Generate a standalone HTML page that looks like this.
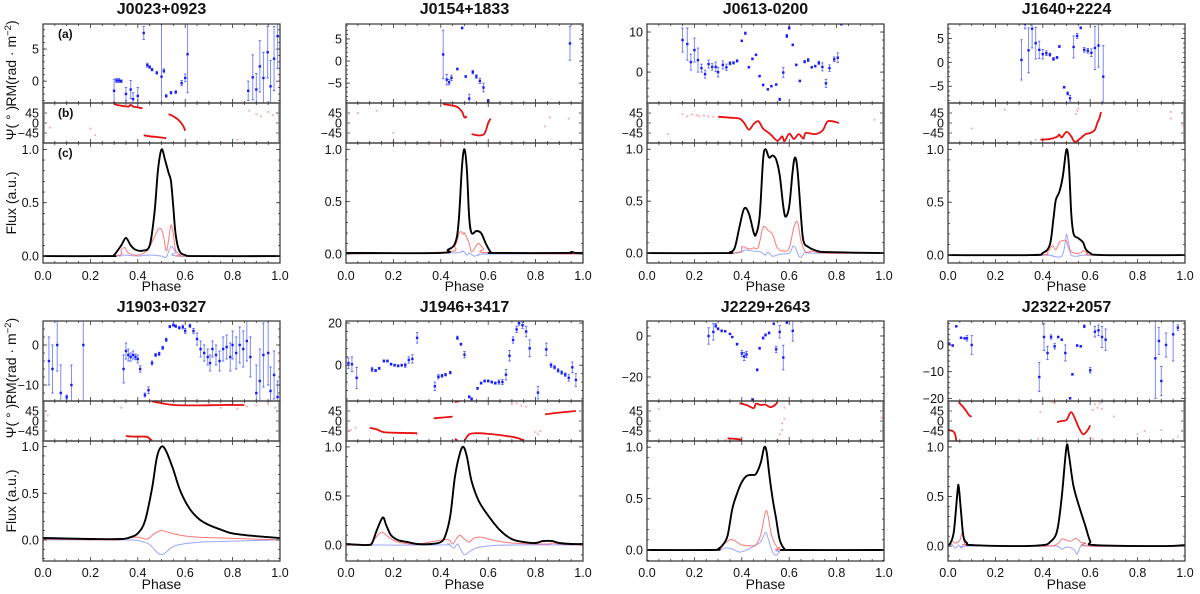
<!DOCTYPE html>
<html><head><meta charset="utf-8"><style>
html,body{margin:0;padding:0;background:#fff;}
svg{display:block;font-family:"Liberation Sans","DejaVu Sans",sans-serif;}
</style></head><body>
<svg id="fig" width="1200" height="594" viewBox="0 0 1200 594" xmlns="http://www.w3.org/2000/svg"></svg>
<script>
// ---------- DATA ----------
// RM: [phase, rm, err]; PA segments: [[phase, deg],...]; flux: [phase, value]
const j0023_rm=[[0.30,-1.5,1.8],[0.31,0.1,0.3],[0.32,0.1,0.3],[0.33,0,0.2],[0.35,-2,1],[0.37,-1.3,1.4],[0.38,-2.8,1],[0.40,-2.3,1.3],[0.425,7.5,1],[0.44,2.5,0.3],[0.45,2.2,0.2],[0.46,1.8,0.2],[0.48,1.3,0.2],[0.50,0.7,9],[0.51,1.6,0.3],[0.52,-2.3,0.2],[0.54,-1.8,0.2],[0.56,-1.7,0.2],[0.585,-0.3,0.4],[0.60,0.5,0.6],[0.61,4.2,6],[0.866,-1.5,1.5],[0.885,0.6,3.5],[0.90,-1.3,2.5],[0.915,2.3,4],[0.93,0.5,4],[0.948,4.5,4],[0.96,-0.8,4],[0.975,3.5,5],[0.99,7,5]];
const j0023_pa=[[[0.30,85],[0.33,78],[0.36,74],[0.37,82],[0.38,74],[0.40,70],[0.42,66]],[[0.425,-55],[0.45,-60],[0.48,-63],[0.52,-68]],[[0.53,40],[0.55,30],[0.57,15],[0.59,-10],[0.60,-35]]];
const j0023_paf=[[0.03,-20],[0.2,-25],[0.22,-55],[0.82,-75],[0.87,55],[0.9,40],[0.92,30],[0.95,50],[0.97,35]];
const j0023_I=[[0,0],[0.28,0],[0.30,0.01],[0.33,0.1],[0.35,0.17],[0.37,0.1],[0.39,0.06],[0.42,0.05],[0.45,0.1],[0.47,0.4],[0.485,0.8],[0.50,1.0],[0.515,0.9],[0.53,0.78],[0.54,0.7],[0.55,0.45],[0.56,0.2],[0.575,0.05],[0.60,0.01],[0.65,0],[1,0]];
const j0023_L=[[0,0],[0.30,0],[0.33,0.06],[0.345,0.08],[0.36,0.03],[0.40,0.01],[0.44,0.05],[0.47,0.18],[0.49,0.26],[0.505,0.22],[0.52,0.05],[0.53,0.15],[0.54,0.29],[0.55,0.2],[0.56,0.05],[0.58,0.01],[0.60,0],[1,0]];
const j0023_V=[[0,0],[0.30,0],[0.34,0.01],[0.40,0],[0.45,0.01],[0.50,0],[0.52,-0.01],[0.54,0.09],[0.56,0.04],[0.58,0],[1,0]];

const j0154_rm=[[0.41,1.5,5.5],[0.425,-4.2,1.2],[0.435,-4.8,0.6],[0.445,-3.8,0.6],[0.47,-1.8,0.2],[0.49,7.5,0.2],[0.505,-3.5,0.2],[0.52,-8.5,1],[0.535,-2.5,0.4],[0.55,-3.5,0.4],[0.565,-4.5,0.6],[0.58,-6,1],[0.60,-9,0.3],[0.945,4,3.8]];
const j0154_pa=[[[0.41,85],[0.44,80],[0.47,72],[0.49,50],[0.50,25],[0.51,30]],[[0.53,-50],[0.56,-56],[0.58,-52],[0.59,-35],[0.60,0],[0.61,20]]];
const j0154_paf=[[0.05,45],[0.13,55],[0.2,75],[0.2,-45],[0.2,-85],[0.41,-85],[0.84,-15],[0.86,25],[0.94,20]];
const j0154_I=[[0,0.01],[0.40,0.01],[0.43,0.04],[0.46,0.1],[0.475,0.3],[0.49,0.85],[0.50,1.0],[0.51,0.8],[0.52,0.35],[0.53,0.2],[0.55,0.22],[0.57,0.2],[0.59,0.1],[0.61,0.02],[0.63,0.01],[0.93,0.01],[0.95,0.02],[0.97,0.01],[1,0.01]];
const j0154_L=[[0,0],[0.42,0.02],[0.46,0.08],[0.48,0.21],[0.495,0.19],[0.50,0.2],[0.52,0.1],[0.53,0.02],[0.55,0.08],[0.56,0.1],[0.58,0.05],[0.60,0.01],[1,0]];
const j0154_V=[[0,0],[0.44,0.01],[0.49,0.03],[0.51,-0.01],[0.52,0.01],[0.54,-0.02],[0.56,-0.01],[0.60,0],[1,0]];

const j0613_rm=[[0.15,8,3],[0.17,7,4],[0.185,2.5,2],[0.20,5.5,3],[0.215,3,3],[0.23,1,1],[0.245,-0.5,1],[0.26,2,1],[0.275,1.3,0.8],[0.29,1.3,1.2],[0.30,0,1.2],[0.32,1.8,1],[0.335,1.2,0.8],[0.35,2.2,0.4],[0.365,2.3,0.3],[0.38,2.8,0.3],[0.40,7.8,0.2],[0.415,9.7,0.3],[0.43,1.2,0.2],[0.445,3.3,0.2],[0.46,4.3,0.2],[0.475,-1,0.2],[0.49,-3.2,0.2],[0.51,-4.3,0.2],[0.525,-3.5,0.2],[0.545,-3.1,0.2],[0.56,-6.8,0.3],[0.575,-0.1,1.2],[0.59,9,0.4],[0.60,11,0.3],[0.615,6.8,0.2],[0.63,1.8,0.2],[0.645,-2.2,0.2],[0.665,2.6,0.3],[0.68,3,0.4],[0.695,1.2,0.2],[0.71,1.5,0.2],[0.725,2.3,0.4],[0.74,1.3,1],[0.755,-2.8,1],[0.77,1,0.8],[0.79,3.2,0.6],[0.805,3.6,1.2],[0.82,12,0.3]];
const j0613_pa=[[[0.30,28],[0.35,24],[0.39,20],[0.41,0],[0.43,-30],[0.45,-5],[0.47,8],[0.49,-25],[0.52,-50],[0.55,-80],[0.57,-60],[0.58,-82],[0.60,-48],[0.62,-72],[0.64,-50],[0.66,-70],[0.67,-45],[0.71,-50],[0.74,-35],[0.76,5],[0.78,8],[0.81,0]]];
const j0613_paf=[[0.15,40],[0.17,30],[0.19,38],[0.21,35],[0.22,30],[0.24,32],[0.26,30],[0.28,28],[0.09,-50],[0.96,15]];
const j0613_I=[[0,0],[0.33,0],[0.35,0.01],[0.37,0.05],[0.39,0.25],[0.41,0.43],[0.43,0.38],[0.45,0.2],[0.46,0.18],[0.475,0.35],[0.49,0.9],[0.50,1.0],[0.515,0.92],[0.53,0.94],[0.545,0.9],[0.56,0.75],[0.575,0.45],[0.585,0.35],[0.60,0.45],[0.615,0.8],[0.625,0.92],[0.635,0.8],[0.65,0.35],[0.66,0.12],[0.68,0.06],[0.72,0.02],[0.76,0.01],[1,0]];
const j0613_L=[[0,0],[0.36,0],[0.40,0.06],[0.43,0.04],[0.45,0.05],[0.47,0.06],[0.49,0.25],[0.51,0.22],[0.53,0.18],[0.55,0.05],[0.58,0.02],[0.60,0.05],[0.62,0.25],[0.635,0.3],[0.65,0.12],[0.67,0.01],[0.70,0.02],[0.75,0],[1,0]];
const j0613_V=[[0,0],[0.36,0],[0.41,0.03],[0.45,0.02],[0.48,0.01],[0.50,-0.02],[0.51,0.01],[0.53,-0.03],[0.56,-0.01],[0.60,0],[0.62,0.07],[0.645,-0.04],[0.67,0.01],[0.70,0],[1,0]];

const j1640_rm=[[0.31,0.5,4.2],[0.325,8,1],[0.34,2.5,4.7],[0.355,7,4],[0.37,4,3.3],[0.385,2.6,1.8],[0.40,1.7,1],[0.415,1.9,0.5],[0.43,1.6,0.3],[0.445,0.7,0.3],[0.46,1,0.2],[0.47,3.3,0.2],[0.49,-5.2,0.2],[0.505,-6.5,0.3],[0.515,-7.5,0.6],[0.53,3.2,2.3],[0.545,5.5,0.5],[0.56,7.2,0.2],[0.575,2.6,0.5],[0.59,2.4,0.5],[0.605,2,0.8],[0.62,3,4.5],[0.635,3.5,4.5],[0.655,-3,6.5]];
const j1640_pa=[[[0.39,-75],[0.43,-72],[0.46,-62],[0.47,-52],[0.48,-65],[0.50,-40],[0.52,-60],[0.535,-85],[0.56,-68],[0.58,-50],[0.60,-45],[0.62,-30],[0.63,0],[0.64,25],[0.645,50]]];
const j1640_paf=[[0.1,-25],[0.24,60],[0.37,-75],[0.40,-70],[0.54,40],[0.545,55],[0.55,65],[0.94,50],[0.94,20],[0.99,-10],[0.9,-88]];
const j1640_I=[[0,0],[0.35,0],[0.40,0.02],[0.43,0.1],[0.445,0.35],[0.455,0.52],[0.47,0.6],[0.485,0.75],[0.50,1.0],[0.51,0.85],[0.52,0.4],[0.53,0.2],[0.55,0.16],[0.57,0.12],[0.58,0.06],[0.60,0.02],[0.65,0],[1,0]];
const j1640_L=[[0,0],[0.38,0],[0.42,0.03],[0.44,0.09],[0.455,0.05],[0.47,0.12],[0.49,0.14],[0.50,0.13],[0.51,0.06],[0.53,0.02],[0.56,0.02],[0.57,0.04],[0.59,0.02],[0.62,0],[1,0]];
const j1640_V=[[0,0],[0.40,0],[0.44,-0.01],[0.48,-0.01],[0.495,0.12],[0.50,0.2],[0.51,0.1],[0.52,0],[0.55,-0.01],[0.60,0],[1,0]];

const j1903_rm=[[0.025,-4,6],[0.04,-6,6],[0.06,0,6.5],[0.075,-12,7],[0.10,-13,0.5],[0.12,-10,5],[0.17,0,15],[0.34,-6,3.5],[0.35,-1.5,2],[0.36,-2.5,1.5],[0.37,-3,1],[0.38,-2.5,1],[0.39,-3,0.7],[0.40,-3.5,1],[0.41,-6,0.8],[0.43,-12.5,0.5],[0.445,-11.3,0.8],[0.46,-4.5,0.5],[0.475,-2.5,0.4],[0.49,-2.2,0.4],[0.505,-0.7,0.4],[0.52,1.3,0.4],[0.535,4.6,0.3],[0.55,5,0.3],[0.56,4.7,0.3],[0.575,4.3,0.3],[0.59,4.5,0.5],[0.60,3.5,0.6],[0.62,4.8,0.4],[0.635,3.5,0.6],[0.65,1.5,1.5],[0.665,-1,2],[0.68,-2,2],[0.695,-3,2],[0.705,-4.5,2],[0.715,-1,2],[0.73,-2.5,2.5],[0.745,-4,2.5],[0.76,-1,3],[0.775,-0.5,3],[0.79,-3,3.5],[0.80,0,3.5],[0.815,-2,4],[0.83,0,4.5],[0.845,-1,4.5],[0.86,1,5],[0.875,-3,5],[0.90,-12,7],[0.915,-9,8],[0.93,-2.5,8],[0.95,-2,8],[0.96,-11.5,6],[0.975,-7.5,6],[0.99,-13,4]];
const j1903_pa=[[[0.46,88],[0.50,80],[0.55,72],[0.65,70],[0.75,72],[0.85,72]],[[0.35,-68],[0.38,-70],[0.42,-70],[0.44,-72],[0.46,-88]]];
const j1903_paf=[[0.02,25],[0.33,60],[0.7,80],[0.75,60],[0.8,85],[0.82,55],[0.86,65],[0.9,70],[0.95,75],[0.98,60],[0.86,-85],[0.9,-85],[0.95,-88],[0.12,-88]];
const j1903_I=[[0,0.02],[0.2,0.01],[0.33,0.01],[0.37,0.03],[0.40,0.07],[0.43,0.2],[0.46,0.55],[0.48,0.88],[0.50,1.0],[0.52,0.95],[0.55,0.75],[0.58,0.52],[0.62,0.33],[0.66,0.22],[0.70,0.16],[0.75,0.11],[0.80,0.07],[0.90,0.04],[1,0.02]];
const j1903_L=[[0,0.01],[0.30,0],[0.36,0.02],[0.40,0.03],[0.44,0.01],[0.47,0.07],[0.50,0.1],[0.53,0.08],[0.58,0.05],[0.65,0.03],[0.75,0.02],[1,0]];
const j1903_V=[[0,0],[0.35,0],[0.42,-0.02],[0.45,-0.05],[0.48,-0.13],[0.50,-0.16],[0.52,-0.13],[0.55,-0.07],[0.60,-0.04],[0.70,-0.02],[0.85,-0.01],[1,0]];

const j1946_rm=[[0.01,1,2.5],[0.025,0.5,3.5],[0.045,-6,5],[0.11,-2,1],[0.125,-2.5,0.5],[0.14,-1.5,0.5],[0.16,2,0.5],[0.175,2,0.5],[0.19,0.5,0.5],[0.205,0,0.5],[0.22,-0.3,0.5],[0.235,0,0.5],[0.25,0,1],[0.265,2.5,1.5],[0.28,3,2],[0.30,13,2.5],[0.375,-10,2],[0.39,-5.5,1],[0.405,-5,0.7],[0.42,-4.5,0.6],[0.44,-3.5,0.6],[0.47,13,0.8],[0.485,10,0.5],[0.50,5,1.5],[0.52,-15,0.5],[0.53,-16,0.5],[0.555,-11,0.5],[0.57,-8.5,0.5],[0.585,-7.5,0.5],[0.60,-7.5,0.5],[0.615,-8,0.5],[0.63,-8.5,0.5],[0.645,-8,1],[0.66,-8,1.2],[0.675,-4.5,2.5],[0.69,4.5,2.5],[0.705,12,1.5],[0.72,17,1.5],[0.73,20,1],[0.745,19,1.5],[0.76,16,2.5],[0.775,8,4],[0.81,-13,3],[0.845,7.5,3],[0.865,0,1],[0.88,-1,0.8],[0.895,-2.5,0.8],[0.91,-3.5,0.8],[0.925,-4.5,0.8],[0.94,-6,1.5],[0.955,-1,2.5],[0.97,-7,3]];
const j1946_pa=[[[0.10,-30],[0.13,-38],[0.16,-50],[0.22,-53],[0.30,-55]],[[0.37,12],[0.40,15],[0.45,20]],[[0.46,85],[0.48,90]],[[0.46,-80],[0.47,-88]],[[0.50,-88],[0.52,-60],[0.55,-55],[0.60,-58],[0.66,-65],[0.72,-75],[0.75,-88]],[[0.84,30],[0.90,38],[0.97,45]]];
const j1946_paf=[[0.0,-35],[0.02,-40],[0.04,-30],[0.28,-55],[0.3,-60],[0.7,75],[0.72,80],[0.74,70],[0.76,65],[0.8,-50],[0.82,-45],[0.81,-60],[1,-35]];
const j1946_I=[[0,0.01],[0.09,0],[0.11,0.02],[0.13,0.15],[0.155,0.28],[0.17,0.2],[0.19,0.1],[0.22,0.05],[0.26,0.03],[0.30,0.01],[0.36,0.01],[0.40,0.03],[0.42,0.1],[0.44,0.3],[0.46,0.7],[0.48,0.93],[0.495,1.0],[0.51,0.9],[0.53,0.65],[0.56,0.45],[0.60,0.3],[0.65,0.15],[0.70,0.06],[0.75,0.03],[0.80,0.02],[0.83,0.04],[0.87,0.04],[0.90,0.02],[0.95,0.01],[1,0.01]];
const j1946_L=[[0,0],[0.09,0],[0.12,0.06],[0.15,0.13],[0.18,0.08],[0.22,0.03],[0.30,0.01],[0.40,0.05],[0.435,0.05],[0.45,0.01],[0.465,0.06],[0.48,0.1],[0.50,0.06],[0.52,0.03],[0.54,0.07],[0.57,0.08],[0.62,0.05],[0.70,0.02],[0.85,0.01],[0.87,0.02],[0.90,0.01],[1,0]];
const j1946_V=[[0,0],[0.40,0],[0.43,0.01],[0.455,-0.03],[0.47,0.01],[0.485,-0.05],[0.50,-0.1],[0.52,-0.07],[0.55,-0.03],[0.60,-0.01],[0.70,0],[1,0]];

const j2229_rm=[[0.26,0,4],[0.28,2,4],[0.29,5,1],[0.30,3.5,0.5],[0.315,2.5,0.5],[0.33,2.3,0.3],[0.35,1,0.3],[0.36,-0.5,0.3],[0.38,-4,0.5],[0.40,-8.5,1.5],[0.41,-10,2],[0.42,-9,1.5],[0.445,-31,0.5],[0.465,-16.5,0.5],[0.475,-6,0.5],[0.49,-1,0.5],[0.50,0.5,0.5],[0.515,1.5,0.5],[0.535,6,0.3],[0.545,-6.5,1.5],[0.56,2,3],[0.575,-10.5,6],[0.59,6.5,0.3],[0.615,2.5,5]];
const j2229_pa=[[[0.34,-78],[0.37,-80],[0.40,-84]],[[0.39,80],[0.42,72],[0.45,58],[0.46,78],[0.48,72],[0.50,74],[0.52,62],[0.54,72],[0.55,85]]];
const j2229_paf=[[0.05,55],[0.0,-40],[0.33,-85],[0.55,-85],[0.56,-60],[0.57,-40],[0.57,-10],[0.58,10],[0.58,60],[0.9,-88],[0.99,15]];
const j2229_I=[[0,0],[0.28,0],[0.30,0.01],[0.32,0.05],[0.34,0.14],[0.36,0.4],[0.38,0.55],[0.40,0.66],[0.42,0.72],[0.44,0.73],[0.46,0.74],[0.48,0.85],[0.495,1.0],[0.505,0.95],[0.515,0.75],[0.53,0.5],[0.545,0.3],[0.56,0.1],[0.58,0.01],[0.60,0],[1,0]];
const j2229_L=[[0,0],[0.28,0],[0.32,0.05],[0.35,0.1],[0.37,0.09],[0.40,0.05],[0.44,0.04],[0.46,0.05],[0.48,0.15],[0.50,0.37],[0.51,0.34],[0.525,0.15],[0.545,0.04],[0.56,0.02],[0.58,0],[1,0]];
const j2229_V=[[0,0],[0.28,0],[0.33,0.02],[0.36,0.01],[0.39,-0.02],[0.42,0],[0.46,0.05],[0.48,0.08],[0.50,0.17],[0.51,0.12],[0.53,-0.02],[0.545,-0.05],[0.56,-0.02],[0.58,0],[1,0]];

const j2322_rm=[[0.005,0.5,0.3],[0.02,-0.2,0.3],[0.035,7,0.3],[0.055,2.7,0.3],[0.07,2.5,0.3],[0.08,2.5,1],[0.10,0,3.5],[0.385,-12,5.5],[0.405,3,5],[0.42,-3,2.5],[0.435,3,0.8],[0.45,-0.5,1],[0.465,3,0.3],[0.48,2,0.3],[0.495,-3,3],[0.515,-20,0.3],[0.525,-11,0.3],[0.545,-0.2,0.3],[0.56,-0.5,0.3],[0.575,7,0.5],[0.60,-9.5,1],[0.62,5,2],[0.635,5.5,2],[0.65,3,4],[0.665,2,4],[0.875,-5,15],[0.89,1.5,5],[0.90,-13.5,5.5],[0.92,0,4.5],[0.95,4,10],[0.97,6.5,1]];
const j2322_pa=[[[0,-40],[0.02,-45],[0.03,-60],[0.035,-88]],[[0.045,85],[0.07,55],[0.09,25],[0.10,20]],[[0.46,-5],[0.48,0],[0.50,5],[0.52,40],[0.54,0],[0.55,-25],[0.57,-60],[0.59,-40],[0.60,-20]]];
const j2322_paf=[[0.38,-80],[0.39,40],[0.41,-85],[0.43,-88],[0.44,85],[0.45,80],[0.61,50],[0.62,75],[0.63,60],[0.64,80],[0.65,55],[0.61,-80],[0.7,20],[0.8,-60],[0.83,-45],[0.9,-40],[0.97,-70]];
const j2322_I=[[0,0.01],[0.01,0.03],[0.025,0.15],[0.04,0.55],[0.045,0.6],[0.055,0.35],[0.065,0.1],[0.08,0.03],[0.10,0.01],[0.30,0],[0.40,0.01],[0.43,0.04],[0.46,0.15],[0.48,0.5],[0.50,1.0],[0.51,0.92],[0.53,0.6],[0.56,0.35],[0.58,0.2],[0.60,0.05],[0.62,0.01],[0.90,0],[1,0.01]];
const j2322_L=[[0,0],[0.015,0.05],[0.03,0.03],[0.05,0.06],[0.06,0.13],[0.07,0.03],[0.09,0.01],[0.40,0],[0.46,0.02],[0.48,0.07],[0.50,0.06],[0.52,0.05],[0.54,0.08],[0.56,0.04],[0.58,0.03],[0.60,0],[1,0]];
const j2322_V=[[0,0],[0.015,0.02],[0.03,-0.02],[0.045,0.01],[0.06,-0.02],[0.08,0],[0.40,0],[0.46,0],[0.48,-0.03],[0.50,-0.01],[0.53,-0.03],[0.545,-0.08],[0.56,0],[0.58,0.03],[0.60,0],[1,0]];

const names=["J0023+0923","J0154+1833","J0613-0200","J1640+2224","J1903+0327","J1946+3417","J2229+2643","J2322+2057"];
const rmLims=[[-3.4,8.9],[-9.5,8.4],[-7.7,12],[-8.5,8],[-14,6],[-17,21],[-31.7,7.3],[-21,9]];
const rmTicks=[[0,5],[-5,0,5],[0,10],[-5,0,5],[-10,0],[0,20],[-20,0],[-20,-10,0]];
const fluxBottoms=[-0.065,-0.086,-0.095,-0.075,-0.226,-0.163,-0.107,-0.15];
const xTicks=[0,0.2,0.4,0.6,0.8,1.0];
const fluxTicks=[0,0.5,1.0];
const paTicks=[45,0,-45];

const rmData=[j0023_rm,j0154_rm,j0613_rm,j1640_rm,j1903_rm,j1946_rm,j2229_rm,j2322_rm];
const paData=[j0023_pa,j0154_pa,j0613_pa,j1640_pa,j1903_pa,j1946_pa,j2229_pa,j2322_pa];
const paFaint=[j0023_paf,j0154_paf,j0613_paf,j1640_paf,j1903_paf,j1946_paf,j2229_paf,j2322_paf];
const iData=[j0023_I,j0154_I,j0613_I,j1640_I,j1903_I,j1946_I,j2229_I,j2322_I];
const lData=[j0023_L,j0154_L,j0613_L,j1640_L,j1903_L,j1946_L,j2229_L,j2322_L];
const vData=[j0023_V,j0154_V,j0613_V,j1640_V,j1903_V,j1946_V,j2229_V,j2322_V];

// ---------- LAYOUT ----------
const NS="http://www.w3.org/2000/svg";
const svg=document.getElementById('fig');
const lefts=[43,346,647,948], W=237;
const rows=[{t:24,p:103,f:143,b:263,title:14,tl:280,ph:291},{t:321,p:401,f:441,b:561,title:312,tl:577,ph:589}];
function el(tag,attrs,parent){const e=document.createElementNS(NS,tag);for(const k in attrs)e.setAttribute(k,attrs[k]);(parent||svg).appendChild(e);return e;}
function smooth(pts){if(!pts.length)return'';let d='M'+pts[0][0].toFixed(1)+','+pts[0][1].toFixed(1);
 for(let i=0;i<pts.length-1;i++){const p0=pts[i-1]||pts[i],p1=pts[i],p2=pts[i+1],p3=pts[i+2]||p2;
  const c1=[p1[0]+(p2[0]-p0[0])/6,p1[1]+(p2[1]-p0[1])/6],c2=[p2[0]-(p3[0]-p1[0])/6,p2[1]-(p3[1]-p1[1])/6];
  d+=' C'+c1[0].toFixed(1)+','+c1[1].toFixed(1)+' '+c2[0].toFixed(1)+','+c2[1].toFixed(1)+' '+p2[0].toFixed(1)+','+p2[1].toFixed(1);}return d;}
let clipId=0;
function axes(g,x0,y0,y1,ylim,yt,name){
 const sx=v=>x0+v*W, sy=v=>y1-(v-ylim[0])/(ylim[1]-ylim[0])*(y1-y0);
 const ax=el('g',{},g);
 
 
 const cid='c'+(clipId++);
 const cp=el('clipPath',{id:cid},ax);el('rect',{x:x0,y:y0,width:W,height:y1-y0},cp);
 const plot=el('g',{'clip-path':'url(#'+cid+')'},ax);
 const tk=el('g',{stroke:'#333','stroke-width':0.8},ax);
 for(let i=0;i<=20;i++){const v=i*0.05,X=sx(v),l=(i%4===0)?4:2;
  el('line',{x1:X,y1:y1,x2:X,y2:y1-l},tk);el('line',{x1:X,y1:y0,x2:X,y2:y0+l},tk);}
 const isFlux=yt.indexOf(0.5)>=0;
 yt.forEach(v=>{const Y=sy(v);el('line',{x1:x0,y1:Y,x2:x0+4,y2:Y},tk);el('line',{x1:x0+W,y1:Y,x2:x0+W-4,y2:Y},tk);
  const t=el('text',{x:x0-4,y:Y+4.5,'text-anchor':'end','font-size':12.5,fill:'#111'},ax);
  
  const s=isFlux?v.toFixed(1):String(v);
  t.textContent=s.replace('-','\u2212');});
 const step=Math.abs(yt[1]-yt[0])/5;
 if(step>0){let n=0;
  for(let v=Math.ceil(ylim[0]/step)*step;v<=ylim[1]&&n<400;v+=step,n++){const Y=sy(v);el('line',{x1:x0,y1:Y,x2:x0+2,y2:Y},tk);el('line',{x1:x0+W,y1:Y,x2:x0+W-2,y2:Y},tk);}}
 el('rect',{x:x0,y:y0,width:W,height:y1-y0,fill:'none',stroke:'#333','stroke-width':1.2},ax);
 return {sx,sy,plot};
}
for(let k=0;k<8;k++){
 const r=rows[Math.floor(k/4)], x0=lefts[k%4];
 const g=el('g',{});
 
 
 const tt=el('text',{x:x0+W/2,y:r.title,'text-anchor':'middle','font-size':16,'font-weight':'bold',fill:'#111'},g);
 tt.textContent=names[k];
 const a=axes(g,x0,r.t,r.p,rmLims[k],rmTicks[k],'rm-axes');
 rmData[k].forEach(d=>{const X=a.sx(d[0]);
  const eb=el('line',{x1:X,x2:X,y1:a.sy(d[1]-d[2]),y2:a.sy(d[1]+d[2]),stroke:'#7d8cff','stroke-width':1},a.plot);
  
  [d[1]-d[2],d[1]+d[2]].forEach(v=>el('line',{x1:X-1.2,x2:X+1.2,y1:a.sy(v),y2:a.sy(v),stroke:'#4050ff','stroke-width':0.8},a.plot));
  const m=el('rect',{x:X-1.2,y:a.sy(d[1])-1.2,width:2.4,height:2.4,fill:'#1a1aff'},a.plot);
  });
 const b=axes(g,x0,r.p,r.f,[-90,90],paTicks,'pa-axes');
 paFaint[k].forEach(d=>{const c=el('rect',{x:b.sx(d[0])-1,y:b.sy(d[1])-1,width:2,height:2,fill:'#ff8080',opacity:0.6},b.plot);
  });
 paData[k].forEach(seg=>{const p=el('path',{d:smooth(seg.map(d=>[b.sx(d[0]),b.sy(d[1])])),fill:'none',stroke:'#e81010','stroke-width':1.8},b.plot);
  });
 const c=axes(g,x0,r.f,r.b,[fluxBottoms[k],1.06],fluxTicks,'flux-axes');
 [[vData[k],'#7080ff',1,0.7,'flux-v'],[lData[k],'#ff4a4a',1,0.75,'flux-l'],[iData[k],'#000',1.9,1,'flux-i']].forEach(s=>{
  const p=el('path',{d:smooth(s[0].map(d=>[c.sx(d[0]),c.sy(d[1])])),fill:'none',stroke:s[1],'stroke-width':s[2],opacity:s[3]},c.plot);
  });
 xTicks.forEach(v=>{const t=el('text',{x:c.sx(v),y:r.tl,'text-anchor':'middle','font-size':12.5,fill:'#111'},g);
  t.textContent=v.toFixed(1);});
 const xl=el('text',{x:x0+W/2,y:r.ph,'text-anchor':'middle','font-size':14,fill:'#111'},g);
 xl.textContent='Phase';
 if(k%4===0){
  const lab=(txt,y,name,sup)=>{const t=el('text',{x:0,y:0,'text-anchor':'middle','font-size':14,fill:'#111',transform:'translate(16,'+y+') rotate(-90)'},g);
   
   t.appendChild(document.createTextNode(txt));
   if(sup){const s1=el('tspan',{dy:-5,'font-size':9.5},t);s1.textContent='\u22122';const s2=el('tspan',{dy:5},t);s2.textContent=')';}};
  lab('RM(rad \u00b7 m',(r.t+r.p)/2,'rm-axis-title',true);
  lab('\u03a8( \u00b0 )',(r.p+r.f)/2,'pa-axis-title',false);
  lab('Flux (a.u.)',(r.f+r.b)/2,'flux-axis-title',false);
 }
 if(k===0){[['(a)',r.t+14],['(b)',r.p+14],['(c)',r.f+14]].forEach(q=>{
  const t=el('text',{x:x0+15,y:q[1],'font-size':12,'font-weight':'bold',fill:'#111'},g);
  t.textContent=q[0];});}
}
</script>
</body></html>
